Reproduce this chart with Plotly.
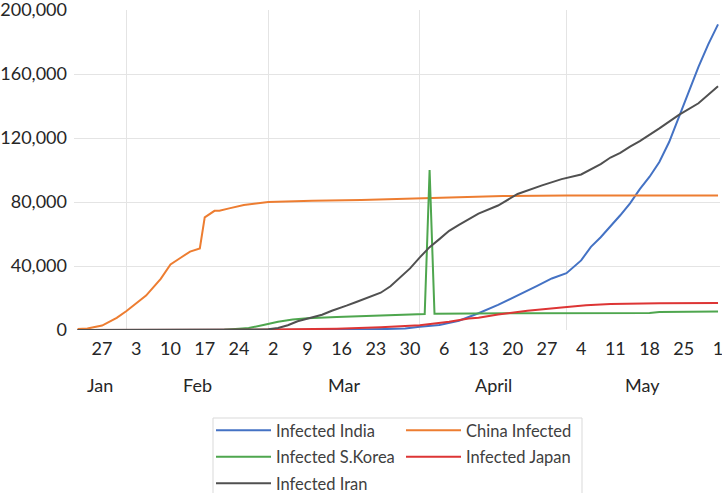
import plotly.graph_objects as go
from datetime import datetime

# ---------------- data ----------------
dates_india = ["2020-01-22", "2020-03-01", "2020-03-15", "2020-03-25", "2020-03-29", "2020-04-01",
               "2020-04-05", "2020-04-09", "2020-04-13", "2020-04-17", "2020-04-21", "2020-04-25",
               "2020-04-28", "2020-05-01", "2020-05-04", "2020-05-06", "2020-05-08", "2020-05-10",
               "2020-05-12", "2020-05-14", "2020-05-16", "2020-05-18", "2020-05-20", "2020-05-22",
               "2020-05-24", "2020-05-26", "2020-05-28", "2020-05-30", "2020-06-01"]
india = [0, 3, 110, 600, 1000, 2000, 3100, 5800, 10500, 15700, 21500, 27600, 32200, 35500,
         43500, 52000, 58000, 64800, 71700, 79200, 88000, 95800, 105000, 117500, 133000,
         148500, 164500, 178500, 191000]

dates_china = ["2020-01-22", "2020-01-24", "2020-01-27", "2020-01-30", "2020-02-01", "2020-02-03",
               "2020-02-05", "2020-02-08", "2020-02-10", "2020-02-12", "2020-02-14", "2020-02-16",
               "2020-02-17", "2020-02-19", "2020-02-20", "2020-02-22", "2020-02-25", "2020-03-01",
               "2020-03-10", "2020-03-20", "2020-04-01", "2020-04-15", "2020-04-18", "2020-05-01",
               "2020-06-01"]
china = [550, 900, 2800, 7600, 11900, 16500, 21500, 32000, 41000, 45000, 49000, 51000, 70400,
         74500, 74600, 76000, 78100, 80000, 80800, 81200, 82300, 83300, 83800, 84000, 84100]

dates_korea = ["2020-01-22", "2020-02-18", "2020-02-21", "2020-02-24", "2020-02-26", "2020-02-29",
               "2020-03-03", "2020-03-06", "2020-03-09", "2020-03-15", "2020-03-20", "2020-03-26",
               "2020-03-31", "2020-04-02", "2020-04-03", "2020-04-04", "2020-04-20", "2020-05-18",
               "2020-05-20", "2020-06-01"]
korea = [1, 31, 200, 800, 1200, 3100, 5200, 6500, 7400, 8100, 8650, 9300, 9800, 10000, 100000,
         10200, 10500, 10600, 11200, 11500]

dates_japan = ["2020-01-22", "2020-02-20", "2020-03-01", "2020-03-15", "2020-03-24", "2020-04-01",
               "2020-04-07", "2020-04-11", "2020-04-13", "2020-04-17", "2020-04-23", "2020-04-30",
               "2020-05-05", "2020-05-10", "2020-05-20", "2020-06-01"]
japan = [2, 100, 250, 800, 1700, 3000, 5100, 7200, 7700, 9700, 12100, 14000, 15500, 16200,
         16700, 16800]

dates_iran = ["2020-01-22", "2020-02-19", "2020-02-25", "2020-03-01", "2020-03-03", "2020-03-05",
              "2020-03-07", "2020-03-09", "2020-03-12", "2020-03-14", "2020-03-16", "2020-03-17",
              "2020-03-19", "2020-03-21", "2020-03-24", "2020-03-26", "2020-03-28", "2020-03-30",
              "2020-04-01", "2020-04-03", "2020-04-05", "2020-04-07", "2020-04-09", "2020-04-13",
              "2020-04-17", "2020-04-21", "2020-04-26", "2020-04-30", "2020-05-04", "2020-05-06",
              "2020-05-08", "2020-05-10", "2020-05-12", "2020-05-14", "2020-05-16", "2020-05-20",
              "2020-05-24", "2020-05-28", "2020-06-01"]
iran = [0, 2, 95, 400, 1200, 3000, 5500, 7000, 9500, 12000, 14000, 15200, 17500, 19700, 23300,
        27300, 32600, 38500, 45400, 51800, 56800, 62000, 65700, 72700, 77800, 85000, 90400,
        94300, 97200, 100200, 103700, 107800, 110700, 114600, 118000, 126000, 134400, 141700,
        152300]

month_starts = ["2020-01-01", "2020-02-01", "2020-03-01", "2020-04-01", "2020-05-01", "2020-06-01"]
month_labels = ["Jan", "Feb", "Mar", "April", "May"]

series = [
    ("Infected India", dates_india, india, "#4472C4", "legend"),
    ("China Infected", dates_china, china, "#ED7D31", "legend2"),
    ("Infected S.Korea", dates_korea, korea, "#4EA64E", "legend"),
    ("Infected Japan", dates_japan, japan, "#DD3535", "legend2"),
    ("Infected Iran", dates_iran, iran, "#505050", "legend"),
]

FONT = "Lato, 'Open Sans', sans-serif"
TXT = "#262626"
TICK_SIZE = 18

x_range = ["2020-01-21 06:15", "2020-06-01 09:40"]

fig = go.Figure()
for name, d, v, c, lg in series:
    fig.add_trace(go.Scatter(x=d, y=v, mode="lines", name=name,
                             line=dict(color=c, width=2), legend=lg,
                             legendgroup=name))

# month labels centred on the visible part of each month
rs = datetime.strptime(x_range[0], "%Y-%m-%d %H:%M")
re_ = datetime.strptime(x_range[1], "%Y-%m-%d %H:%M")
annotations = []
for i, lab in enumerate(month_labels):
    a = max(datetime.strptime(month_starts[i], "%Y-%m-%d"), rs)
    b = min(datetime.strptime(month_starts[i + 1], "%Y-%m-%d"), re_)
    mid = a + (b - a) / 2
    annotations.append(dict(x=mid.strftime("%Y-%m-%d %H:%M"), y=-0.172, xref="x", yref="paper",
                            text=lab, showarrow=False, yanchor="middle", xanchor="center",
                            font=dict(family=FONT, size=TICK_SIZE, color=TXT)))

legend_common = dict(yanchor="top", xanchor="left", orientation="v",
                     bgcolor="rgba(0,0,0,0)", borderwidth=0, itemwidth=55,
                     tracegroupgap=2, font=dict(family=FONT, size=16.5, color="#404040"))

LEG_Y = (330 - 413) / 320

fig.update_layout(
    width=722, height=493,
    margin=dict(l=74, r=2, t=10, b=163, autoexpand=False),
    paper_bgcolor="white", plot_bgcolor="white",
    font=dict(family=FONT, size=TICK_SIZE, color=TXT),
    showlegend=True,
    annotations=annotations,
    legend=dict(x=(211 - 74) / 646, y=LEG_Y, **legend_common),
    legend2=dict(x=(401 - 74) / 646, y=LEG_Y, **legend_common),
    shapes=[dict(type="rect", xref="paper", yref="paper",
                 x0=(213 - 74) / 646, x1=(582 - 74) / 646, y0=-0.62, y1=(330 - 418) / 320,
                 line=dict(color="#d9d9d9", width=1), fillcolor="rgba(0,0,0,0)")],
)

fig.update_xaxes(
    type="date", range=x_range, automargin=False,
    tick0="2020-01-27", dtick=7 * 86400000, tickformat="%-d",
    showgrid=False, zeroline=False, showline=False, ticks="",
    ticklabelstandoff=6, ticklabeloverflow="allow",
    tickfont=dict(family=FONT, size=TICK_SIZE, color=TXT),
    minor=dict(tick0="2020-01-01", dtick="M1", showgrid=True, gridcolor="#e4e4e4",
               gridwidth=1, ticks=""),
)
fig.update_yaxes(
    range=[0, 200000], dtick=40000, tickformat=",d", automargin=False,
    showgrid=True, gridcolor="#e4e4e4", gridwidth=1,
    zeroline=False, showline=False, ticks="",
    ticklabelstandoff=6, ticklabeloverflow="allow",
    tickfont=dict(family=FONT, size=TICK_SIZE, color=TXT),
)

fig.write_html("out.html", config={"displayModeBar": False},
               post_script="document.body.style.margin='0';document.body.style.overflow='hidden';")
